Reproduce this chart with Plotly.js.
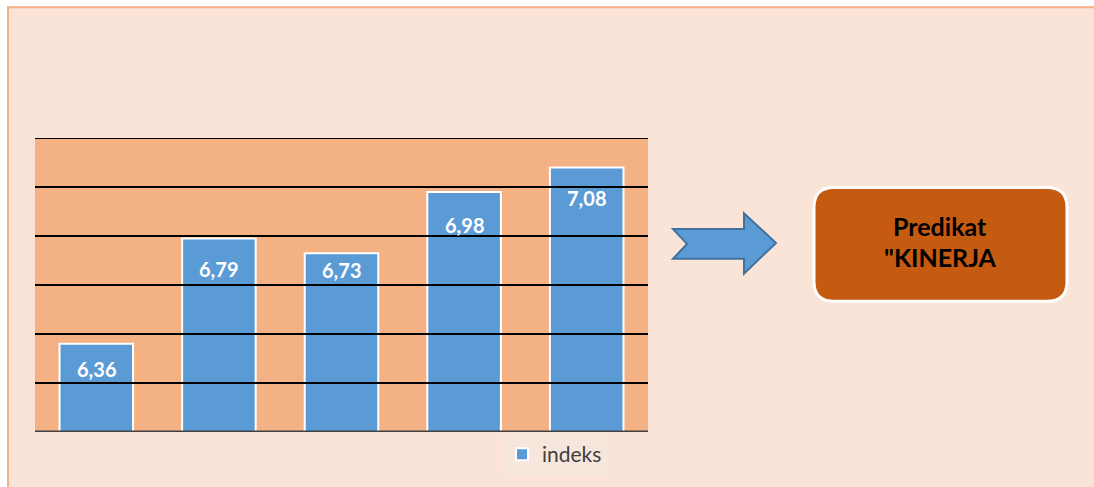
<!DOCTYPE html>
<html>
<head>
<meta charset="utf-8">
<script src="https://cdn.plot.ly/plotly-3.0.1.min.js"></script>
<style>html,body{margin:0;padding:0;background:#fff;}</style>
</head>
<body>
<div id="chart" style="width:1094px;height:487px;"></div>
<script>
const categories = ["I", "II", "III", "IV", "V"];
const values = [6.36, 6.79, 6.73, 6.98, 7.08];
const valueLabels = ["6,36", "6,79", "6,73", "6,98", "7,08"];
const seriesName = "indeks";
const boxLines = ["Predikat", "\"KINERJA"];
const yMin = 6.0, yMax = 7.2, yStep = 0.2;

// styling: vertical offset (px) of each data label below its bar top
const labelShift = [-25, -31, -17, -33, -31];

const W = 1094, H = 487;
const ml = 35, mr = W - 648, mt = 138, mb = H - 435;
const pw = W - ml - mr, ph = H - mt - mb;
const px = x => (x - ml) / pw;
const py = y => 1 - (y - mt) / ph;

function polyPath(pts) {
  return 'M ' + pts.map(p => px(p[0]).toFixed(5) + ',' + py(p[1]).toFixed(5)).join(' L ') + ' Z';
}
function roundRect(x0, y0, x1, y1, r) {
  const P = (x, y) => px(x).toFixed(5) + ',' + py(y).toFixed(5);
  return 'M ' + P(x0 + r, y0) + ' L ' + P(x1 - r, y0) + ' Q ' + P(x1, y0) + ' ' + P(x1, y0 + r) +
    ' L ' + P(x1, y1 - r) + ' Q ' + P(x1, y1) + ' ' + P(x1 - r, y1) +
    ' L ' + P(x0 + r, y1) + ' Q ' + P(x0, y1) + ' ' + P(x0, y1 - r) +
    ' L ' + P(x0, y0 + r) + ' Q ' + P(x0, y0) + ' ' + P(x0 + r, y0) + ' Z';
}

const FONT = 'Lato, "Open Sans", sans-serif';

const trace = {
  type: 'bar',
  x: categories,
  y: values,
  name: seriesName,
  width: 0.6,
  marker: { color: '#5B9BD5', line: { color: '#FFFFFF', width: 2 } },
  hoverinfo: 'none',
  showlegend: true
};

const annotations = categories.map((c, i) => ({
  x: c, y: values[i], xref: 'x', yref: 'y',
  text: valueLabels[i],
  showarrow: false, yshift: labelShift[i], xanchor: 'center',
  font: { family: FONT, size: 20, color: '#FFFFFF', weight: 'bold' }
}));
boxLines.forEach((t, i) => annotations.push({
  x: px(940), y: py(227 + i * 31), xref: 'paper', yref: 'paper',
  text: t, showarrow: false, xanchor: 'center', yanchor: 'middle',
  font: { family: FONT, size: 25, color: '#000000', weight: 'bold' }
}));

// gridlines drawn above the bars, at the axis tick values
const gridShapes = [];
const nGrid = Math.round((yMax - yMin) / yStep);
for (let k = 1; k <= nGrid; k++) {
  const v = yMin + k * yStep;
  gridShapes.push({ type: 'line', xref: 'paper', yref: 'y', x0: 0, x1: 1, y0: v, y1: v,
    line: { color: '#000000', width: 2 }, layer: 'above' });
}

const shapes = [
  { type: 'rect', xref: 'paper', yref: 'paper', x0: px(0), x1: px(7), y0: py(H + 5), y1: py(-5), fillcolor: '#FFFFFF', line: { width: 0 }, layer: 'above' },
  { type: 'rect', xref: 'paper', yref: 'paper', x0: px(0), x1: px(W + 5), y0: py(5), y1: py(-5), fillcolor: '#FFFFFF', line: { width: 0 }, layer: 'above' },
  { type: 'line', xref: 'paper', yref: 'paper', x0: px(8), x1: px(8), y0: py(5), y1: py(H + 5), line: { color: '#F4B183', width: 2 } },
  { type: 'line', xref: 'paper', yref: 'paper', x0: px(7), x1: px(W + 5), y0: py(6), y1: py(6), line: { color: '#F4B183', width: 2 } },
  { type: 'path', xref: 'paper', yref: 'paper',
    path: polyPath([[673, 230], [744, 230], [744, 214], [776, 244], [744, 275], [744, 260], [673, 260], [687, 245]]),
    fillcolor: '#5B9BD5', line: { color: '#41719C', width: 2 } },
  { type: 'path', xref: 'paper', yref: 'paper',
    path: roundRect(814, 188, 1067, 303, 20),
    fillcolor: '#C55A11', line: { color: '#FFFFFF', width: 3 } },
  { type: 'line', xref: 'paper', yref: 'y', x0: 0, x1: 1, y0: yMin, y1: yMin, line: { color: '#404040', width: 3 }, layer: 'above' }
].concat(gridShapes);

const layout = {
  width: W, height: H,
  margin: { l: ml, r: mr, t: mt, b: mb, pad: 0 },
  paper_bgcolor: '#F9E4D7',
  plot_bgcolor: '#F4B183',
  bargap: 0.4,
  xaxis: {
    type: 'category', range: [-0.5, categories.length - 0.5], autorange: false,
    showticklabels: false, ticks: '', showgrid: false,
    zeroline: false, showline: false, fixedrange: true
  },
  yaxis: {
    range: [yMin, yMax], autorange: false, showticklabels: false, ticks: '',
    showgrid: false, zeroline: false, showline: false, fixedrange: true
  },
  showlegend: true,
  legend: {
    x: px(502), y: py(437), xanchor: 'left', yanchor: 'top',
    orientation: 'h', bgcolor: '#F6E6DB',
    font: { family: FONT, size: 21, color: '#404040' },
    itemwidth: 30, tracegroupgap: 0
  },
  annotations: annotations,
  shapes: shapes
};

Plotly.newPlot('chart', [trace], layout, { displayModeBar: false, staticPlot: true });
</script>
</body>
</html>
